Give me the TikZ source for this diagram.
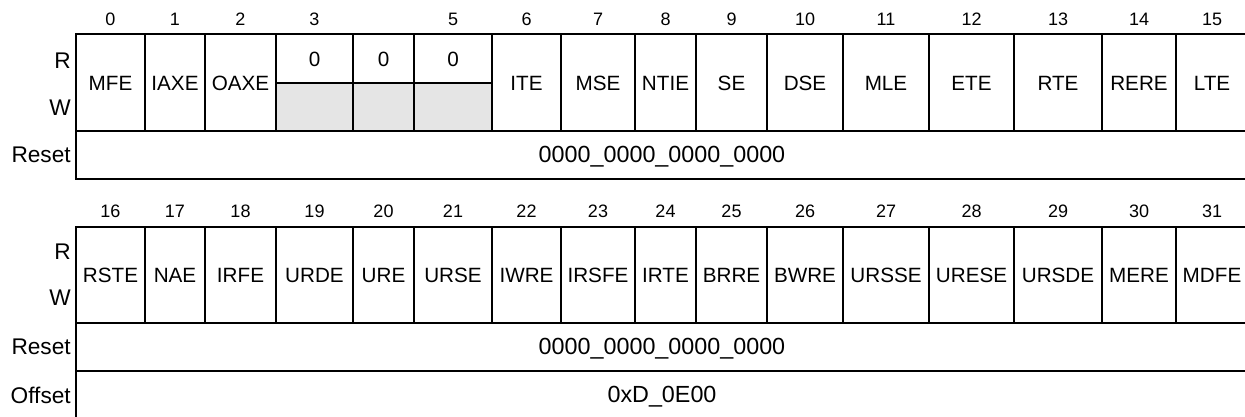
\documentclass[tikz,border=0pt]{standalone}
\usepackage{fontspec}
\setmainfont{Liberation Sans}
\usetikzlibrary{positioning}

\begin{document}
\begin{tikzpicture}[
		x=0.75pt, y=-0.75pt,
		reg line/.style={draw=black, line width=1.5pt},
		reserved/.style={reg line, fill=black!10},
		field/.style={inner sep=0pt, font=\fontsize{15.5}{18}\selectfont},
		bit/.style={inner sep=0pt, font=\fontsize{13.5}{16}\selectfont},
		side/.style={inner sep=0pt, anchor=east, font=\fontsize{17}{20}\selectfont},
		value/.style={inner sep=0pt, anchor=base, font=\fontsize{17.5}{20}\selectfont},
	]
	\useasboundingbox (0,0) rectangle (1245,417);
	% Bits 0 to 15
	\foreach \l/\r/\name/\i in {76/145/MFE/0, 145/205/IAXE/1, 205/276/OAXE/2, 492/561/ITE/6, 561/635/MSE/7, 635/696/NTIE/8, 696/767/SE/9, 767/843/DSE/10, 843/929/MLE/11, 929/1014/ETE/12, 1014/1102/RTE/13, 1102/1176/RERE/14, 1176/1248/LTE/15} {
		\draw[reg line] (\l,34) rectangle (\r,131);
		\node[field] (f\i) at ({(\l+\r)/2},83) {\name};
		\node[bit] (b\i) at ({(\l+\r)/2},19) {\i};
	}
	% Reserved bits
	\foreach \l/\r/\i in {276/353/3, 353/414/4, 414/492/5} {
		\draw[reg line] (\l,34) rectangle (\r,83);
		\draw[reserved] (\l,83) rectangle (\r,131);
		\node[field] (f\i) at ({(\l+\r)/2},59) {0};
	}
	\node[bit] (b3) at (314.5,19) {3};
	\node[bit] (b5) at (453,19) {5};
	\draw[reg line] (76,131) rectangle (1248,179);
	\node[value] (reset low) at (662,162) {0000\_0000\_0000\_0000};
	\node[side] (r low) at (71,61) {R};
	\node[side] (w low) at (71,108) {W};
	\node[side] (reset low label) at (71,155) {Reset};
	% Bits 16 to 31
	\foreach \l/\r/\name/\i in {76/145/RSTE/16, 145/205/NAE/17, 205/276/IRFE/18, 276/353/URDE/19, 353/414/URE/20, 414/492/URSE/21, 492/561/IWRE/22, 561/635/IRSFE/23, 635/696/IRTE/24, 696/767/BRRE/25, 767/843/BWRE/26, 843/929/URSSE/27, 929/1014/URESE/28, 1014/1102/URSDE/29, 1102/1176/MERE/30, 1176/1248/MDFE/31} {
		\draw[reg line] (\l,227) rectangle (\r,323);
		\node[field] (f\i) at ({(\l+\r)/2},275) {\name};
		\node[bit] (b\i) at ({(\l+\r)/2},211) {\i};
	}
	\draw[reg line] (76,323) rectangle (1248,371);
	\draw[reg line] (76,371) rectangle (1248,419);
	\node[value] (reset high) at (662,354) {0000\_0000\_0000\_0000};
	\node[value] (offset) at (662,402) {0xD\_0E00};
	\node[side] (r high) at (71,252) {R};
	\node[side] (w high) at (71,298) {W};
	\node[side] (reset high label) at (71,347) {Reset};
	\node[side] (offset label) at (71,395) {Offset};
\end{tikzpicture}
\end{document}
